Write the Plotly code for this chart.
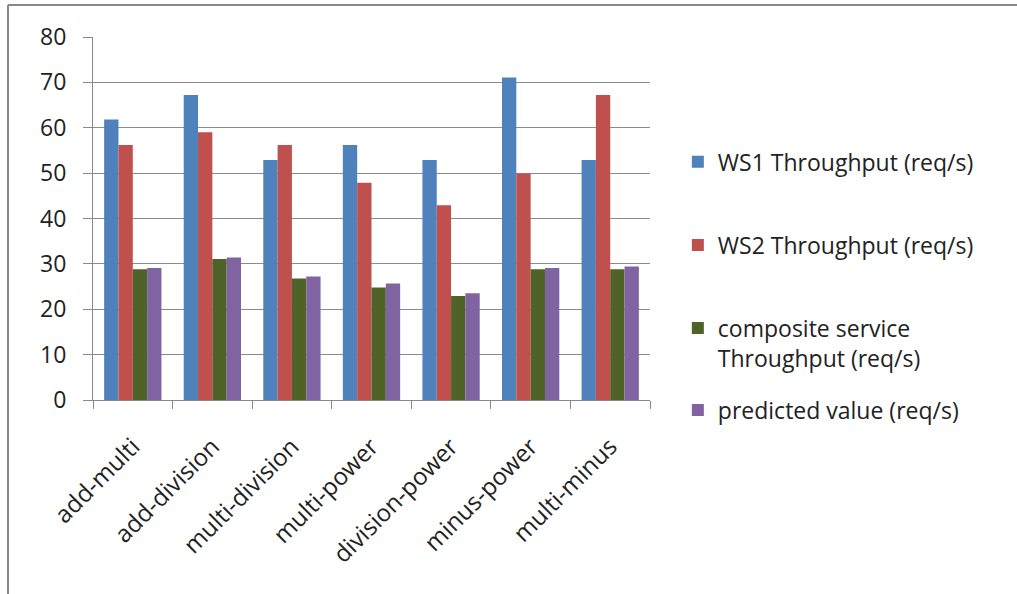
import plotly.graph_objects as go

categories = ["add-multi", "add-division", "multi-division", "multi-power",
              "division-power", "minus-power", "multi-minus"]
ws1 = [61.8, 67.2, 52.9, 56.2, 52.9, 71.1, 52.9]
ws2 = [56.2, 59.0, 56.2, 47.9, 42.9, 49.9, 67.2]
composite = [28.8, 31.1, 26.8, 24.8, 22.9, 28.8, 28.8]
predicted = [29.1, 31.4, 27.2, 25.7, 23.5, 29.1, 29.4]

series_names = ["WS1 Throughput (req/s)", "WS2 Throughput (req/s)",
                "composite service<br>Throughput (req/s)", "predicted value (req/s)"]
series_values = [ws1, ws2, composite, predicted]
colors = ["#4F81BD", "#C0504D", "#4F6228", "#8064A2"]

FONT = "Open Sans"
L, R, T, B = 93, 367, 37, 194
W, H = 1017, 594
pw, ph = W - L - R, H - T - B

# legend entry vertical centres, in pixels from the top of the page
legend_centres_px = [161.7, 245, 343, 410]
legend_keys = ["legend", "legend2", "legend3", "legend4"]

fig = go.Figure()
for name, vals, col, key in zip(series_names, series_values, colors, legend_keys):
    fig.add_trace(go.Bar(x=categories, y=vals, name=name, marker_color=col,
                         marker_line_width=0, legend=key))

legend_layout = {}
for key, cy in zip(legend_keys, legend_centres_px):
    legend_layout[key] = dict(
        x=1.05, y=(H - B - cy) / ph, xanchor="left", yanchor="middle",
        valign="top", bgcolor="rgba(0,0,0,0)",
        font=dict(family=FONT, size=23, color="#222"))

fig.update_layout(
    width=W, height=H,
    margin=dict(l=L, r=R, t=T, b=B),
    paper_bgcolor="white", plot_bgcolor="white",
    barmode="group", bargap=0.28, bargroupgap=0,
    font=dict(family=FONT, size=20, color="#222"),
    showlegend=True,
    **legend_layout,
    xaxis=dict(showline=True, linecolor="#888", linewidth=1,
               ticks="outside", tickson="boundaries", ticklen=8, tickcolor="#888",
               tickangle=-45, ticklabelstandoff=22, ticklabelshift=0,
               tickfont=dict(family=FONT, size=24, color="#222"),
               showgrid=False),
    yaxis=dict(range=[0, 80], dtick=10, showline=True, linecolor="#888", linewidth=1,
               ticks="outside", ticklen=9, tickcolor="#888",
               showgrid=True, gridcolor="#8c8c8c", gridwidth=1,
               zeroline=False, ticklabelstandoff=12,
               tickfont=dict(family=FONT, size=23, color="#222")),
    shapes=[
        dict(type="line", xref="paper", yref="paper",
             x0=(8 - L) / pw, x1=(W - L) / pw,
             y0=(H - B - 5) / ph, y1=(H - B - 5) / ph,
             line=dict(color="#888", width=2)),
        dict(type="line", xref="paper", yref="paper",
             x0=(8 - L) / pw, x1=(8 - L) / pw,
             y0=(H - B - 5) / ph, y1=-(B) / ph,
             line=dict(color="#888", width=2)),
    ],
)

fig.write_html("out.html")
